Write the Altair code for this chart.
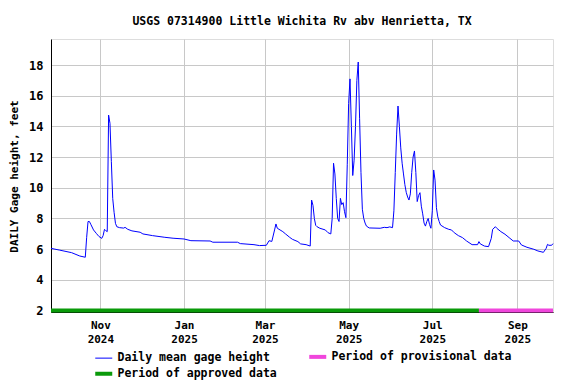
import altair as alt
import pandas as pd

FONT = "DejaVu Sans Mono"

# ---- data ----
dates = [
    "2024-09-26", "2024-10-02", "2024-10-11", "2024-10-17", "2024-10-21", "2024-10-22",
    "2024-10-23", "2024-10-24", "2024-10-25", "2024-10-27", "2024-10-29", "2024-10-31",
    "2024-11-02", "2024-11-03", "2024-11-04", "2024-11-05", "2024-11-06", "2024-11-07",
    "2024-11-08", "2024-11-09", "2024-11-10", "2024-11-11", "2024-11-12", "2024-11-13",
    "2024-11-15", "2024-11-18", "2024-11-19", "2024-11-21", "2024-11-24", "2024-11-30",
    "2024-12-02", "2024-12-09", "2024-12-18", "2024-12-24", "2025-01-01", "2025-01-06",
    "2025-01-20", "2025-01-22", "2025-02-09", "2025-02-11", "2025-02-21", "2025-02-25",
    "2025-03-02", "2025-03-04", "2025-03-06", "2025-03-08", "2025-03-09", "2025-03-10",
    "2025-03-12", "2025-03-14", "2025-03-16", "2025-03-19", "2025-03-21", "2025-03-25",
    "2025-03-27", "2025-03-31", "2025-04-03", "2025-04-04", "2025-04-05", "2025-04-06",
    "2025-04-07", "2025-04-08", "2025-04-10", "2025-04-14", "2025-04-16", "2025-04-18",
    "2025-04-19", "2025-04-20", "2025-04-21", "2025-04-22", "2025-04-23", "2025-04-24",
    "2025-04-25", "2025-04-26", "2025-04-27", "2025-04-28", "2025-04-29", "2025-04-30",
    "2025-05-01", "2025-05-02", "2025-05-03", "2025-05-04", "2025-05-05", "2025-05-06",
    "2025-05-07", "2025-05-08", "2025-05-09", "2025-05-10", "2025-05-11", "2025-05-12",
    "2025-05-13", "2025-05-14", "2025-05-16", "2025-05-24", "2025-05-27", "2025-05-29",
    "2025-05-31", "2025-06-02", "2025-06-03", "2025-06-04", "2025-06-05", "2025-06-06",
    "2025-06-07", "2025-06-08", "2025-06-09", "2025-06-10", "2025-06-11", "2025-06-12",
    "2025-06-13", "2025-06-14", "2025-06-15", "2025-06-16", "2025-06-17", "2025-06-18",
    "2025-06-19", "2025-06-20", "2025-06-21", "2025-06-22", "2025-06-23", "2025-06-24",
    "2025-06-25", "2025-06-26", "2025-06-27", "2025-06-28", "2025-06-29", "2025-06-30",
    "2025-07-01", "2025-07-02", "2025-07-03", "2025-07-04", "2025-07-05", "2025-07-06",
    "2025-07-07", "2025-07-10", "2025-07-13", "2025-07-15", "2025-07-17", "2025-07-20",
    "2025-07-23", "2025-07-26", "2025-07-30", "2025-08-03", "2025-08-04", "2025-08-05",
    "2025-08-08", "2025-08-11", "2025-08-13", "2025-08-14", "2025-08-16", "2025-08-17",
    "2025-08-20", "2025-08-23", "2025-08-26", "2025-08-29", "2025-09-02", "2025-09-04",
    "2025-09-08", "2025-09-13", "2025-09-16", "2025-09-20", "2025-09-22", "2025-09-23",
    "2025-09-24", "2025-09-26", "2025-09-27",
]
gage_ft = [
    6.05, 5.94, 5.77, 5.55, 5.47, 6.77,
    7.80, 7.80, 7.62, 7.25, 7.03, 6.82,
    6.70, 6.88, 7.29, 7.20, 7.14, 14.74,
    14.20, 11.70, 9.30, 8.40, 7.68, 7.46,
    7.40, 7.37, 7.42, 7.29, 7.19, 7.10,
    6.99, 6.88, 6.77, 6.71, 6.66, 6.55,
    6.53, 6.45, 6.45, 6.36, 6.29, 6.23,
    6.25, 6.55, 6.50, 7.25, 7.64, 7.36,
    7.25, 7.14, 6.99, 6.77, 6.64, 6.49,
    6.34, 6.29, 6.20, 9.20, 8.85, 8.00,
    7.55, 7.46, 7.36, 7.25, 7.07, 6.99,
    8.00, 11.60, 10.90, 9.30, 8.00, 7.80,
    9.31, 8.90, 9.03, 8.44, 8.05, 11.50,
    15.50, 17.10, 14.00, 10.80, 11.80, 14.00,
    17.00, 18.20, 14.50, 11.00, 8.60, 8.00,
    7.70, 7.50, 7.38, 7.36, 7.42, 7.40,
    7.45, 7.40, 8.50, 11.00, 13.50, 15.33,
    14.00, 12.60, 11.60, 10.90, 10.20, 9.70,
    9.40, 9.20, 9.60, 11.00, 12.00, 12.40,
    11.00, 9.10, 9.50, 9.68, 8.80, 8.30,
    7.70, 7.50, 7.80, 8.00, 7.60, 7.36,
    8.50, 11.16, 10.50, 8.70, 8.10, 7.80,
    7.57, 7.40, 7.29, 7.25, 7.07, 6.88,
    6.75, 6.53, 6.29, 6.29, 6.49, 6.34,
    6.20, 6.16, 6.70, 7.29, 7.46, 7.36,
    7.14, 6.97, 6.75, 6.53, 6.53, 6.27,
    6.12, 5.99, 5.88, 5.79, 6.05, 6.31,
    6.25, 6.25, 6.36,
]

period_names = ["Period of approved data", "Period of provisional data"]
period_start = ["2024-09-26", "2025-08-04"]
period_end = ["2025-08-04", "2025-09-27"]
period_level = [2.0, 2.0]

legend_names = ["Daily mean gage height", "Period of provisional data", "Period of approved data"]
legend_colors = ["#0000ff", "#f046dc", "#0a9a0a"]
# entries are laid out column by column: first column Daily/Approved, second Provisional
legend_order = ["Daily mean gage height", "Period of approved data", "Period of provisional data"]

y_ticks = [2.0, 4.0, 6.0, 8.0, 10.0, 12.0, 14.0, 16.0, 18.0]
y_domain = [1.9, 19.7]
x_domain = ["2024-09-26", "2025-09-27"]
month_ticks = ["2024-11-01", "2025-01-01", "2025-03-01", "2025-05-01", "2025-07-01", "2025-09-01"]

title_text = "USGS 07314900 Little Wichita Rv abv Henrietta, TX"
y_title = "DAILY Gage height, feet"


def dt(s):
    y, m, d = (int(p) for p in s.split("-"))
    return alt.DateTime(year=y, month=m, date=d, utc=True)


line_df = pd.DataFrame({"date": dates, "value": gage_ft, "series": legend_names[0]})
period_df = pd.DataFrame({"start": period_start, "end": period_end,
                          "level": period_level, "series": period_names})

x_scale = alt.Scale(type="utc", domain=[dt(s) for s in x_domain], nice=False)
y_scale = alt.Scale(domain=y_domain, nice=False, zero=False)
color_scale = alt.Scale(domain=legend_names, range=legend_colors)

legend = alt.Legend(
    title=None, orient="none", legendX=47, legendY=312, columns=2,
    values=legend_order,
    symbolType="stroke", symbolSize=289,
    symbolStrokeWidth=alt.ExprRef(expr="datum.value === 'Daily mean gage height' ? 1 : 4"),
    labelFont=FONT, labelFontSize=11.5, labelFontWeight="bold", labelColor="black",
    labelOffset=8, labelLimit=400, columnPadding=24, rowPadding=0, padding=0,
)

x_axis = alt.Axis(
    values=[dt(s) for s in month_ticks],
    labelExpr="[utcFormat(datum.value, '%b'), utcFormat(datum.value, '%Y')]",
    title=None, ticks=False, grid=True, gridColor="#c8c8c8", gridWidth=1,
    labelFont=FONT, labelFontSize=11, labelFontWeight="bold", labelColor="black",
    labelPadding=7, labelLineHeight=14, domainColor="black", labelFlush=False,
    labelOverlap=False,
)
y_axis = alt.Axis(
    values=y_ticks, tickCount=9, title=y_title, ticks=False, grid=True,
    gridColor="#c8c8c8", gridWidth=1,
    labelFont=FONT, labelFontSize=12, labelFontWeight="bold", labelColor="black",
    labelPadding=8, domainColor="black", labelOverlap=False, labelBound=False,
    titleFont=FONT, titleFontSize=11, titleFontWeight="bold", titleColor="black",
    titleX=-36.5, titleY=137, titleAngle=270, titleBaseline="middle", titleAlign="center",
)

line = alt.Chart(line_df).mark_line(strokeWidth=1, interpolate="linear").encode(
    x=alt.X("date:T", scale=x_scale, axis=x_axis),
    y=alt.Y("value:Q", scale=y_scale, axis=y_axis),
    color=alt.Color("series:N", scale=color_scale, legend=legend),
)

periods = alt.Chart(period_df).mark_rule(strokeWidth=4, strokeCap="butt").encode(
    x=alt.X("start:T", scale=x_scale, axis=x_axis),
    x2="end:T",
    y=alt.Y("level:Q", scale=y_scale, axis=y_axis),
    color=alt.Color("series:N", scale=color_scale, legend=legend),
)

chart = alt.layer(periods, line).properties(
    width=502, height=273,
    autosize=alt.AutoSizeParams(type="none"),
    padding={"left": 43, "top": 31, "right": 15, "bottom": 72},
    title=alt.TitleParams(title_text, font=FONT, fontSize=11.5, fontWeight="bold",
                          color="black", anchor="middle", baseline="alphabetic", offset=3),
).configure_view(stroke="black", strokeWidth=1).configure(background="white")

chart.save("out.html", embed_options={"renderer": "svg", "actions": False})
